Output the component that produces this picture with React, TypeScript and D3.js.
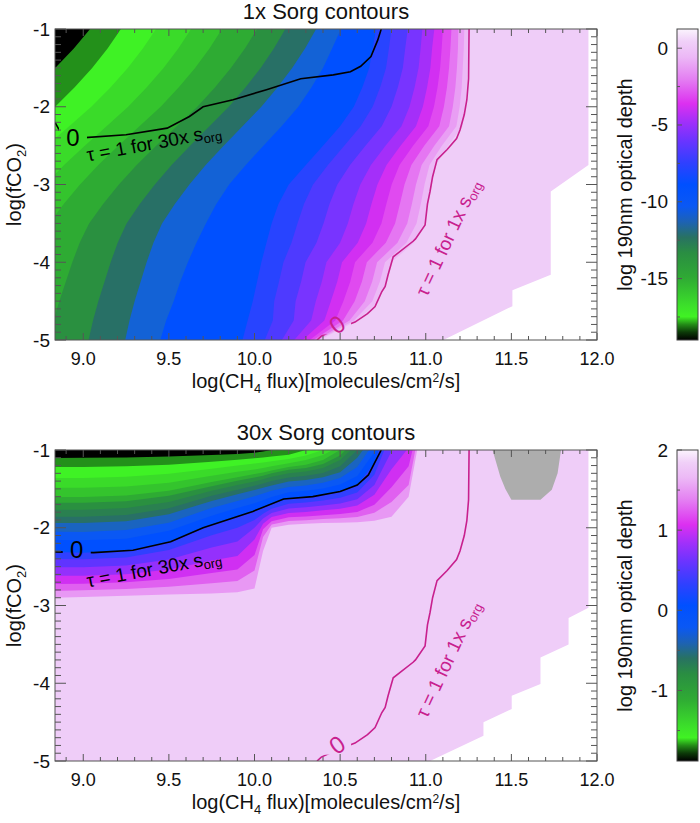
import React from 'react';
import * as d3 from 'd3';

const FONT = "'Liberation Sans', Arial, Helvetica, sans-serif";
const MAGENTA = '#c8208e';

// ---------------- shared axes ----------------
const X_DOMAIN = [8.835, 12.0];
const Y_DOMAIN = [-5, -1];
const X_TICKS = [9.0, 9.5, 10.0, 10.5, 11.0, 11.5, 12.0];
const Y_TICKS = [-1, -2, -3, -4, -5];

// ---------------- colour map (fraction from bottom of bar) ----------------
const CMAP_POS = [0, 0.025, 0.05, 0.075, 0.11, 0.2, 0.28, 0.33, 0.38, 0.43, 0.5, 0.57, 0.64, 0.7, 0.76, 0.84, 0.91, 0.96, 1];
const CMAP_COL = ['#000000', '#0c3a08', '#238c17', '#40f224', '#3ce02a', '#2faa34', '#2a8e42', '#287262', '#1d62b4', '#0a58f4', '#0050ff', '#3040ff', '#6a34ff', '#a030fa', '#dc30f0', '#e480f2', '#ecb8f6', '#f0d0f8', '#fbf4fd'];

const CB_TOP_DOMAIN = [-19, 1.25];
const CB_TOP_TICKS = [0, -5, -10, -15];
const CB_TOP_MINOR = [-2.5, -7.5, -12.5, -17.5];
const CB_BOT_DOMAIN = [-1.88, 2.0];
const CB_BOT_TICKS = [2, 1, 0, -1];
const CB_BOT_MINOR = [1.5, 0.5, -0.5, -1.5];

// ---------------- top panel: 1x Sorg (level lines: x position per row) ----------------
const TOP_ROWS = [-1, -1.25, -1.5, -1.75, -2, -2.25, -2.5, -2.75, -3, -3.25, -3.5, -3.75, -4, -4.25, -4.5, -4.75, -5];
const TOP_LEVELS = [-18, -17, -16, -15, -14, -13, -12, -11, -10, -9, -8, -7, -6, -5, -4, -3, -2, -1, 0];
const TOP_LEVEL_X = [
  [9.04, 8.945, 8.836, 8.712, 8.573, 8.412, 8.252, 8.098, 7.96, 7.836, 7.726, 7.653, 7.595, 7.544, 7.492, 7.449, 7.412],
  [9.22, 9.142, 9.052, 8.95, 8.836, 8.704, 8.572, 8.446, 8.332, 8.23, 8.14, 8.08, 8.032, 7.99, 7.948, 7.912, 7.882],
  [9.425, 9.348, 9.26, 9.16, 9.047, 8.918, 8.788, 8.664, 8.552, 8.452, 8.363, 8.304, 8.257, 8.216, 8.174, 8.139, 8.109],
  [9.63, 9.555, 9.469, 9.371, 9.262, 9.136, 9.009, 8.888, 8.779, 8.681, 8.595, 8.538, 8.492, 8.451, 8.411, 8.377, 8.348],
  [9.81, 9.737, 9.653, 9.558, 9.452, 9.328, 9.205, 9.088, 8.981, 8.886, 8.802, 8.746, 8.701, 8.662, 8.623, 8.589, 8.561],
  [10.015, 9.944, 9.862, 9.77, 9.666, 9.546, 9.426, 9.312, 9.208, 9.116, 9.034, 8.979, 8.936, 8.898, 8.86, 8.827, 8.8],
  [10.18, 10.113, 10.036, 9.948, 9.85, 9.737, 9.624, 9.516, 9.418, 9.33, 9.253, 9.201, 9.16, 9.124, 9.088, 9.057, 9.031],
  [10.36, 10.295, 10.22, 10.135, 10.04, 9.93, 9.82, 9.715, 9.62, 9.535, 9.46, 9.41, 9.37, 9.335, 9.3, 9.27, 9.245],
  [10.505, 10.453, 10.4, 10.333, 10.256, 10.158, 10.052, 9.949, 9.852, 9.777, 9.716, 9.661, 9.611, 9.566, 9.528, 9.484, 9.45],
  [10.71, 10.69, 10.67, 10.63, 10.58, 10.5, 10.4, 10.3, 10.2, 10.14, 10.1, 10.07, 10.04, 10.015, 9.99, 9.96, 9.93],
  [10.8, 10.785, 10.768, 10.734, 10.69, 10.62, 10.524, 10.429, 10.342, 10.289, 10.251, 10.216, 10.169, 10.143, 10.115, 10.107, 10.06],
  [10.895, 10.88, 10.866, 10.837, 10.8, 10.743, 10.648, 10.558, 10.484, 10.438, 10.403, 10.362, 10.298, 10.272, 10.24, 10.229, 10.16],
  [10.98, 10.97, 10.958, 10.935, 10.905, 10.858, 10.765, 10.68, 10.618, 10.578, 10.545, 10.5, 10.42, 10.393, 10.358, 10.331, 10.232],
  [11.05, 11.037, 11.027, 11.008, 10.983, 10.943, 10.853, 10.771, 10.718, 10.683, 10.652, 10.603, 10.511, 10.483, 10.446, 10.408, 10.281],
  [11.1, 11.093, 11.084, 11.069, 11.048, 11.015, 10.926, 10.847, 10.801, 10.77, 10.741, 10.689, 10.587, 10.559, 10.519, 10.472, 10.322],
  [11.15, 11.144, 11.136, 11.124, 11.106, 11.079, 10.991, 10.916, 10.876, 10.849, 10.821, 10.767, 10.656, 10.627, 10.585, 10.517, 10.344],
  [11.19, 11.188, 11.182, 11.173, 11.158, 11.136, 11.05, 10.976, 10.943, 10.919, 10.892, 10.835, 10.716, 10.687, 10.644, 10.555, 10.362],
  [11.225, 11.222, 11.216, 11.21, 11.198, 11.179, 11.094, 11.022, 10.993, 10.971, 10.946, 10.887, 10.762, 10.732, 10.688, 10.581, 10.371],
  [11.253, 11.25, 11.245, 11.24, 11.23, 11.215, 11.13, 11.06, 11.035, 11.015, 10.99, 10.93, 10.8, 10.77, 10.725, 10.6, 10.38],
];
const TOP_BAND_COLORS = ['#000000', '#23901a', '#3ff225', '#3adb29', '#34c42d', '#2eab33', '#2a9040', '#287066', '#1362d6', '#0050ff', '#2844ff', '#4e3aff', '#7834ff', '#a42ff9', '#d22ff2', '#e04af0', '#e576f2', '#e99ef4', '#ecbaf6', '#efcdf8'];
// no-data region (white)
const TOP_NODATA_X = [11.95, 11.95, 11.73, 11.73, 11.506, 11.506, 11.103, 11.0, 12.3, 12.3];
const TOP_NODATA_Y = [-0.8, -2.75, -3.09, -4.16, -4.36, -4.565, -5.0, -5.3, -5.3, -0.8];

// ---------------- bottom panel: 30x Sorg (level lines: y position per column) ----------------
const BOT_COLS = [8.75, 9.0, 9.25, 9.5, 9.75, 9.9, 10.0, 10.05, 10.1, 10.2, 10.3, 10.4, 10.5, 10.6, 10.7, 10.8, 10.9, 11.0, 12.1];
const BOT_LEVELS = [-1.65, -1.5, -1.35, -1.2, -1.05, -0.9, -0.75, -0.6, -0.45, -0.3, -0.15, 0, 0.15, 0.3, 0.45, 0.6, 0.75, 0.9];
const BOT_LEVEL_Y = [
  [-1.103, -1.1, -1.095, -1.085, -1.065, -1.05, -1.035, -1.02, -1.0, -0.97, -0.9, -0.8, -0.7, -0.6, -0.5, -0.4, -0.3, -0.2, 0],
  [-1.218, -1.218, -1.21, -1.19, -1.15, -1.125, -1.105, -1.095, -1.085, -1.06, -1.0, -0.9, -0.8, -0.7, -0.6, -0.5, -0.4, -0.3, 0],
  [-1.359, -1.359, -1.345, -1.305, -1.24, -1.2, -1.175, -1.16, -1.145, -1.115, -1.07, -1.0, -0.9, -0.8, -0.7, -0.6, -0.5, -0.4, 0],
  [-1.487, -1.487, -1.47, -1.42, -1.33, -1.28, -1.25, -1.23, -1.21, -1.17, -1.13, -1.065, -0.95, -0.8, -0.7, -0.6, -0.5, -0.4, 0],
  [-1.603, -1.603, -1.585, -1.525, -1.41, -1.35, -1.31, -1.29, -1.265, -1.22, -1.19, -1.13, -1.0, -0.8, -0.7, -0.6, -0.5, -0.4, 0],
  [-1.679, -1.68, -1.66, -1.59, -1.465, -1.395, -1.355, -1.33, -1.3, -1.255, -1.23, -1.18, -1.07, -0.85, -0.7, -0.6, -0.5, -0.4, 0],
  [-1.769, -1.77, -1.745, -1.67, -1.525, -1.45, -1.405, -1.375, -1.345, -1.3, -1.275, -1.23, -1.13, -0.92, -0.6, -0.5, -0.4, -0.3, 0],
  [-1.859, -1.86, -1.835, -1.75, -1.59, -1.51, -1.46, -1.43, -1.4, -1.355, -1.33, -1.295, -1.21, -1.0, -0.7, -0.5, -0.4, -0.3, 0],
  [-1.936, -1.94, -1.915, -1.825, -1.655, -1.57, -1.515, -1.485, -1.455, -1.405, -1.385, -1.35, -1.285, -1.1, -0.8, -0.5, -0.4, -0.3, 0],
  [-2.051, -2.055, -2.03, -1.935, -1.745, -1.655, -1.595, -1.56, -1.525, -1.475, -1.455, -1.42, -1.36, -1.22, -0.9, -0.5, -0.4, -0.3, 0],
  [-2.154, -2.16, -2.14, -2.04, -1.845, -1.745, -1.685, -1.645, -1.605, -1.545, -1.525, -1.495, -1.445, -1.335, -1.03, -0.6, -0.4, -0.3, 0],
  [-2.31, -2.32, -2.295, -2.185, -1.964, -1.855, -1.783, -1.74, -1.695, -1.625, -1.607, -1.576, -1.535, -1.45, -1.17, -0.5, -0.4, -0.3, 0],
  [-2.4, -2.406, -2.382, -2.286, -2.096, -2.001, -1.9, -1.82, -1.756, -1.692, -1.676, -1.649, -1.615, -1.546, -1.318, -0.772, -0.48, -0.3, 0],
  [-2.506, -2.508, -2.486, -2.408, -2.255, -2.177, -2.0, -1.88, -1.81, -1.752, -1.737, -1.714, -1.687, -1.632, -1.451, -1.017, -0.732, -0.3, 0],
  [-2.619, -2.616, -2.597, -2.536, -2.422, -2.362, -2.15, -1.95, -1.863, -1.809, -1.796, -1.776, -1.755, -1.714, -1.577, -1.248, -0.97, -0.3, 0],
  [-2.727, -2.719, -2.701, -2.658, -2.581, -2.538, -2.35, -2.02, -1.915, -1.866, -1.854, -1.838, -1.823, -1.796, -1.703, -1.479, -1.208, -0.3, 0],
  [-2.816, -2.805, -2.788, -2.759, -2.713, -2.684, -2.55, -2.12, -1.957, -1.913, -1.902, -1.889, -1.879, -1.863, -1.806, -1.67, -1.45, -0.3, 0],
  [-2.905, -2.89, -2.875, -2.86, -2.845, -2.83, -2.78, -2.3, -2.0, -1.96, -1.95, -1.94, -1.935, -1.93, -1.91, -1.86, -1.6, -0.4, 0],
];
const BOT_BAND_COLORS = ['#000000', '#23901a', '#3ff225', '#3adb29', '#34c42d', '#2eab33', '#2a9040', '#2a8050', '#287066', '#1a64c0', '#0a58f4', '#0050ff', '#3040ff', '#6034ff', '#9430fc', '#d02ff2', '#e060f0', '#e898f4', '#efcdf8'];
const BOT_NODATA_X = [11.95, 11.95, 11.834, 11.834, 11.67, 11.67, 11.502, 11.502, 11.337, 11.337, 11.025, 10.95, 12.3, 12.3];
const BOT_NODATA_Y = [-0.8, -3.03, -3.16, -3.5, -3.67, -4.01, -4.16, -4.33, -4.5, -4.675, -5.0, -5.3, -5.3, -0.8];
// grey (undefined) blob near the top
const BOT_GREY_X = [11.39, 11.39, 11.41, 11.435, 11.465, 11.5, 11.67, 11.736, 11.77, 11.79, 11.79];
const BOT_GREY_Y = [-0.8, -1.0, -1.15, -1.34, -1.5, -1.64, -1.64, -1.51, -1.3, -1.0, -0.8];

// ---------------- contour overlays ----------------
// tau = 1 for 30x Sorg (black)
const BLK_TOP_X = [8.835, 8.875, 8.99, 9.25, 9.49, 9.62, 9.7, 9.875, 10.07, 10.27, 10.46, 10.56, 10.62, 10.68, 10.72, 10.74];
const BLK_TOP_Y = [-2.2, -2.36, -2.4, -2.36, -2.275, -2.125, -2.0, -1.91, -1.78, -1.64, -1.59, -1.55, -1.48, -1.355, -1.14, -1.0];
const BLK_BOT_X = [8.835, 9.06, 9.29, 9.51, 9.7, 9.99, 10.17, 10.34, 10.5, 10.6, 10.665, 10.72, 10.74];
const BLK_BOT_Y = [-2.31, -2.32, -2.29, -2.18, -2.0, -1.79, -1.63, -1.6, -1.535, -1.45, -1.32, -1.086, -1.0];
// tau = 1 for 1x Sorg (magenta)
const MAG_X = [11.253, 11.25, 11.24, 11.225, 11.2, 11.18, 11.125, 11.066, 11.04, 11.025, 11.01, 10.996, 10.94, 10.926, 10.81, 10.78, 10.763, 10.743, 10.704, 10.66, 10.587, 10.48, 10.39, 10.365];
const MAG_Y = [-1, -1.64, -1.91, -2.1, -2.3, -2.41, -2.55, -2.68, -2.9, -3.09, -3.25, -3.52, -3.7, -3.73, -3.93, -4.16, -4.31, -4.38, -4.57, -4.66, -4.77, -4.86, -4.95, -5.0];

// layout
const PLOT_L = 55;
const PLOT_R = 597;
const PLOT_H = 311;
const CB_X = 677;
const CB_W = 21;

type PanelCfg = {
  id: string;
  top: number;
  title: string;
  cbDomain: number[];
  cbTicks: number[];
  cbMinor: number[];
  blkX: number[];
  blkY: number[];
  blkZero: [number, number];
  blkLabel: [number, number];
  magZero: [number, number];
  magLabel: [number, number];
};

const PANELS: PanelCfg[] = [
  {
    id: 'top', top: 29, title: '1x Sorg contours',
    cbDomain: CB_TOP_DOMAIN, cbTicks: CB_TOP_TICKS, cbMinor: CB_TOP_MINOR,
    blkX: BLK_TOP_X, blkY: BLK_TOP_Y, blkZero: [8.94, -2.39], blkLabel: [9.413, -2.463],
    magZero: [10.482, -4.8], magLabel: [11.128, -3.683],
  },
  {
    id: 'bot', top: 450, title: '30x Sorg contours',
    cbDomain: CB_BOT_DOMAIN, cbTicks: CB_BOT_TICKS, cbMinor: CB_BOT_MINOR,
    blkX: BLK_BOT_X, blkY: BLK_BOT_Y, blkZero: [8.962, -2.285], blkLabel: [9.413, -2.526],
    magZero: [10.482, -4.79], magLabel: [11.128, -3.69],
  },
];

function Panel({ cfg }: { cfg: PanelCfg }) {
  const { id, top } = cfg;
  const bottom = top + PLOT_H;
  const x = d3.scaleLinear().domain(X_DOMAIN).range([PLOT_L, PLOT_R]);
  const y = d3.scaleLinear().domain(Y_DOMAIN).range([bottom, top]);
  const cy = d3.scaleLinear().domain(cfg.cbDomain).range([bottom, top]);

  const poly = (xs: number[], ys: number[]) =>
    'M' + xs.map((v, i) => `${x(v)},${y(ys[i])}`).join('L') + 'Z';
  const line = (xs: number[], ys: number[]) =>
    d3.line<number>().x((v) => x(v)).y((_, i) => y(ys[i]))(xs) || '';

  const bands: any[] = [];
  if (id === 'top') {
    bands.push(<rect key="base" x={PLOT_L} y={top} width={PLOT_R - PLOT_L} height={PLOT_H} fill={TOP_BAND_COLORS[0]} />);
    const area = d3.area<number>().y((_, i) => y(TOP_ROWS[i])).x0((d) => x(d)).x1(() => x(12.3));
    TOP_LEVEL_X.forEach((xs, i) => {
      bands.push(<path key={'l' + TOP_LEVELS[i]} d={area(xs) || ''} fill={TOP_BAND_COLORS[i + 1]} />);
    });
    bands.push(<path key="nodata" d={poly(TOP_NODATA_X, TOP_NODATA_Y)} fill="#ffffff" />);
  } else {
    bands.push(<rect key="base" x={PLOT_L} y={top} width={PLOT_R - PLOT_L} height={PLOT_H} fill={BOT_BAND_COLORS[0]} />);
    const area = d3.area<number>().x((_, i) => x(BOT_COLS[i])).y0((d) => y(d)).y1(() => y(-5.3));
    BOT_LEVEL_Y.forEach((ys, i) => {
      bands.push(<path key={'l' + BOT_LEVELS[i]} d={area(ys) || ''} fill={BOT_BAND_COLORS[i + 1]} />);
    });
    bands.push(<path key="nodata" d={poly(BOT_NODATA_X, BOT_NODATA_Y)} fill="#ffffff" />);
    bands.push(<path key="grey" d={poly(BOT_GREY_X, BOT_GREY_Y)} fill="#adadad" />);
  }

  // ticks
  const xMinor = d3.range(89, 121).map((v) => v / 10);
  const yMinor = d3.range(-50, -9).map((v) => v / 10);
  const isMajorX = (v: number) => Math.abs(v * 2 - Math.round(v * 2)) < 1e-6;
  const isMajorY = (v: number) => Math.abs(v - Math.round(v)) < 1e-6;
  const tickCol = '#555';

  const bz = [x(cfg.blkZero[0]), y(cfg.blkZero[1])];
  const mz = [x(cfg.magZero[0]), y(cfg.magZero[1])];
  const bl = [x(cfg.blkLabel[0]), y(cfg.blkLabel[1])];
  const ml = [x(cfg.magLabel[0]), y(cfg.magLabel[1])];
  const cx = (PLOT_L + PLOT_R) / 2;

  return (
    <g>
      <defs>
        <clipPath id={`clip-${id}`}>
          <rect x={PLOT_L} y={top} width={PLOT_R - PLOT_L} height={PLOT_H} />
        </clipPath>
        <mask id={`gap-${id}`} maskUnits="userSpaceOnUse" x={0} y={0} width={700} height={823}>
          <rect x={0} y={0} width={700} height={823} fill="white" />
          <rect x={bz[0] - 14} y={bz[1] - 16} width={28} height={32} fill="black" />
          <rect x={mz[0] - 14} y={mz[1] - 12} width={28} height={22} fill="black" />
        </mask>
      </defs>
      <g clipPath={`url(#clip-${id})`}>
        {bands}
        <g mask={`url(#gap-${id})`} fill="none">
          <path d={line(cfg.blkX, cfg.blkY)} stroke="#000" strokeWidth={1.6} />
          <path d={line(MAG_X, MAG_Y)} stroke={MAGENTA} strokeWidth={1.6} />
        </g>
        <text x={bz[0]} y={bz[1]} fontSize={24} textAnchor="middle" dominantBaseline="central" fill="#000">0</text>
        <text transform={`translate(${mz[0]},${mz[1]}) rotate(-35)`} fontSize={24} textAnchor="middle" dominantBaseline="central" fill={MAGENTA}>0</text>
        <text transform={`translate(${bl[0]},${bl[1]}) rotate(-10.5)`} fontSize={19} textAnchor="middle" dominantBaseline="central" fill="#000">
          τ = 1 for 30x s<tspan fontSize={13} dy={5}>org</tspan>
        </text>
        <text transform={`translate(${ml[0]},${ml[1]}) rotate(-65)`} fontSize={19} textAnchor="middle" dominantBaseline="central" fill={MAGENTA}>
          τ = 1 for 1x s<tspan fontSize={13} dy={5}>org</tspan>
        </text>
      </g>

      {/* frame and ticks */}
      <rect x={PLOT_L} y={top} width={PLOT_R - PLOT_L} height={PLOT_H} fill="none" stroke={tickCol} strokeWidth={1} />
      <g stroke={tickCol} strokeWidth={1}>
        {xMinor.map((v) => {
          const len = isMajorX(v) ? 7 : 4;
          const px = x(v);
          return (
            <g key={'xt' + v}>
              <line x1={px} x2={px} y1={bottom} y2={bottom - len} />
              <line x1={px} x2={px} y1={top} y2={top + len} />
            </g>
          );
        })}
        {yMinor.map((v) => {
          const len = isMajorY(v) ? 11 : 6;
          const py = y(v);
          return (
            <g key={'yt' + v}>
              <line x1={PLOT_L} x2={PLOT_L + len} y1={py} y2={py} />
              <line x1={PLOT_R} x2={PLOT_R - len} y1={py} y2={py} />
            </g>
          );
        })}
      </g>
      <g fontSize={18} fill="#111">
        {X_TICKS.map((v) => (
          <text key={'xl' + v} x={x(v)} y={bottom + 25} textAnchor="middle">{v.toFixed(1)}</text>
        ))}
      </g>
      <g fontSize={19} fill="#111">
        {Y_TICKS.map((v) => (
          <text key={'yl' + v} x={PLOT_L - 5} y={y(v)} textAnchor="end" dominantBaseline="central">{String(v)}</text>
        ))}
      </g>
      <text x={cx} y={top - 10} textAnchor="middle" fontSize={22} fill="#111">{cfg.title}</text>
      <text x={cx} y={bottom + 48} textAnchor="middle" fontSize={20} fill="#111">
        log(CH<tspan fontSize={13} dy={5}>4</tspan><tspan dy={-5}> flux)[molecules/cm</tspan><tspan fontSize={12} dy={-6}>2</tspan><tspan dy={6}>/s]</tspan>
      </text>
      <text transform={`translate(21,${(top + bottom) / 2}) rotate(-90)`} textAnchor="middle" fontSize={20} fill="#111">
        log(fCO<tspan fontSize={13} dy={5}>2</tspan><tspan dy={-5}>)</tspan>
      </text>

      {/* colour bar */}
      <rect x={CB_X} y={top} width={CB_W} height={PLOT_H} fill="url(#cmap)" stroke="#444" strokeWidth={1} />
      <g stroke="#555" strokeWidth={1}>
        {cfg.cbTicks.map((v) => <line key={'cbt' + v} x1={CB_X} x2={CB_X + 5} y1={cy(v)} y2={cy(v)} />)}
        {cfg.cbMinor.map((v) => <line key={'cbm' + v} x1={CB_X} x2={CB_X + 3} y1={cy(v)} y2={cy(v)} />)}
      </g>
      <g fontSize={19} fill="#111">
        {cfg.cbTicks.map((v) => (
          <text key={'cbl' + v} x={CB_X - 9} y={cy(v)} textAnchor="end" dominantBaseline="central">{String(v)}</text>
        ))}
      </g>
      <text transform={`translate(632,${(top + bottom) / 2}) rotate(-90)`} textAnchor="middle" fontSize={20} fill="#111">
        log 190nm optical depth
      </text>
    </g>
  );
}

export default function App() {
  return (
    <svg width={700} height={823} style={{ position: 'absolute', left: 0, top: 0 }} fontFamily={FONT}>
      <defs>
        <linearGradient id="cmap" x1="0" y1="1" x2="0" y2="0">
          {CMAP_POS.map((p, i) => <stop key={i} offset={p} stopColor={CMAP_COL[i]} />)}
        </linearGradient>
      </defs>
      <rect x={0} y={0} width={700} height={823} fill="#ffffff" />
      {PANELS.map((p) => <Panel key={p.id} cfg={p} />)}
    </svg>
  );
}
